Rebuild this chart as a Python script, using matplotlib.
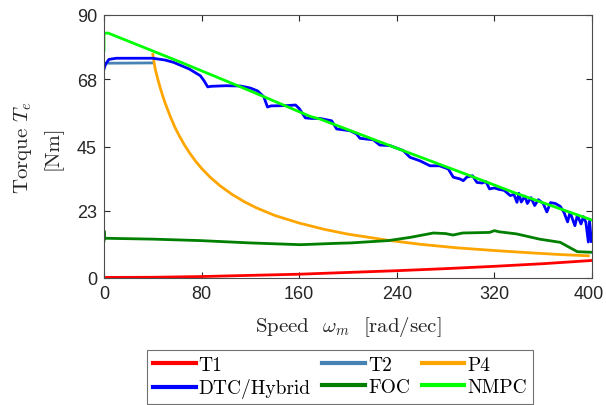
import matplotlib
matplotlib.use("Agg")
import matplotlib.pyplot as plt
import matplotlib.transforms as mtransforms

# data
t1_w = [0, 40, 80, 120, 160, 200, 240, 280, 320, 360, 400]
t1_T = [0.2, 0.25, 0.5, 0.9, 1.3, 1.9, 2.5, 3.2, 4.0, 4.9, 6.0]

t2_w = [0, 2, 40]
t2_T = [72.0, 73.5, 73.6]

p4_w = [40, 42, 44, 46, 48, 50, 54, 58, 62, 66, 70, 75, 80, 87, 95, 105, 115, 125,
        140, 160, 180, 200, 233, 260, 290, 320, 350, 375, 397]
p4_T = [76.5, 71.5, 68.2, 65.2, 62.5, 60.0, 55.6, 51.7, 48.4, 45.5, 42.9, 40.0, 37.5,
        34.5, 31.6, 28.6, 26.1, 24.0, 21.4, 18.8, 16.7, 15.0, 12.9, 11.5, 10.3, 9.4,
        8.6, 8.0, 7.6]

dtc_w = [0, 1, 4, 10, 40, 50, 57, 70, 79, 82, 85, 88, 100, 112, 120, 126, 131, 134,
         137, 150, 157, 160, 165, 170, 177, 186.6, 190.7, 201.6, 207, 209.8, 220.7,
         226, 234.4, 245.3, 250.8, 259, 267.2, 275, 282.2, 286.3, 291.8, 294.5, 297.3,
         302, 305.7, 310, 313, 316, 320, 324, 328, 333, 336, 338.5, 340, 342, 345, 347,
         350, 353, 356, 360, 363, 366, 370, 374, 377, 380, 382, 386, 388, 391, 393, 395,
         397, 398, 399.5]
dtc_T = [71.5, 73.0, 74.8, 75.2, 75.2, 74.6, 73.8, 71.5, 69.2, 67.5, 65.4, 65.6, 65.8,
         65.7, 65.0, 64.0, 62.0, 58.5, 58.9, 59.0, 59.2, 58.0, 54.8, 54.6, 54.6, 53.8,
         51.0, 50.4, 49.3, 47.8, 47.3, 45.5, 45.3, 43.6, 41.3, 40.1, 38.4, 38.4, 37.3,
         34.5, 33.9, 33.3, 34.5, 35.0, 32.7, 32.5, 33.0, 30.5, 30.8, 30.3, 30.0, 28.2,
         28.6, 25.9, 29.0, 26.0, 28.0, 25.5, 27.5, 24.8, 26.8, 25.5, 22.6, 25.8, 25.5,
         24.5, 22.5, 19.2, 22.5, 17.9, 21.5, 18.5, 21.0, 19.0, 12.3, 19.5, 12.5]

foc_w = [0, 0, 0.5, 40, 79, 120, 161, 193, 202, 233, 251, 270, 280, 286, 294, 316, 320,
         324, 338, 357, 374, 384, 388, 400]
foc_T = [12.8, 16.2, 13.6, 13.3, 12.8, 12.0, 11.4, 11.9, 12.0, 12.8, 13.9, 15.4, 15.2,
         14.7, 15.4, 15.6, 16.2, 15.8, 15.1, 13.3, 12.2, 9.9, 9.0, 8.8]

nmpc_w = [0, 0, 3.5, 62, 120, 169, 177, 240, 300, 337, 350, 397.5, 400]
nmpc_T = [78.0, 83.8, 83.8, 74.0, 64.0, 55.3, 54.4, 44.4, 35.0, 29.1, 27.2, 20.2, 19.8]

xticks = [0, 80, 160, 240, 320, 400]
yticks = [0, 23, 45, 68, 90]

plt.rcParams['font.family'] = 'Liberation Sans'
plt.rcParams['mathtext.fontset'] = 'cm'
plt.rcParams['axes.unicode_minus'] = False
serif = 'cmr10'

fig = plt.figure(figsize=(6.06, 4.06), dpi=100)
ax = fig.add_axes([104 / 606, 1 - 279 / 406, 488 / 606, 263 / 406])

lw = 2.0
l1, = ax.plot(t1_w, t1_T, color='#ff0000', lw=lw, label='T1')
l2, = ax.plot(t2_w, t2_T, color='#4682b4', lw=lw, label='T2')
l3, = ax.plot(p4_w, p4_T, color='#ffa500', lw=lw, label='P4')
l4, = ax.plot(dtc_w, dtc_T, color='#0000ff', lw=lw, label='DTC/Hybrid')
l5, = ax.plot(foc_w, foc_T, color='#007f00', lw=lw, label='FOC')
l6, = ax.plot(nmpc_w, nmpc_T, color='#00ff00', lw=lw, label='NMPC')

ax.set_xlim(0, 400)
ax.set_ylim(0, 90)
ax.set_xticks(xticks)
ax.set_yticks(yticks)
ax.tick_params(direction='in', top=True, right=True, labelsize=13,
               colors='#262626', length=4, width=0.8, pad=5)
for s in ax.spines.values():
    s.set_color('#4d4d4d')
    s.set_linewidth(0.8)

# nudge the last x label so it stays inside the figure
last = ax.get_xticklabels()[-1]
last.set_transform(last.get_transform() +
                   mtransforms.ScaledTranslation(-3 / 100, 0, fig.dpi_scale_trans))

ax.set_xlabel(r'Speed  $\omega_m$  [rad/sec]', family=serif, fontsize=15,
              color='#262626', labelpad=9)
ax.set_ylabel('Torque $T_e$\n[Nm]', family=serif, fontsize=15,
              color='#262626', labelpad=10, linespacing=1.6)

# legend fills column by column, so order handles to read row-wise
handles = [l1, l4, l2, l5, l3, l6]
leg = fig.legend(handles, [h.get_label() for h in handles],
                 loc='center', bbox_to_anchor=(0.561, 0.069), ncol=3,
                 prop={'family': serif, 'size': 14}, frameon=True, fancybox=False,
                 handlelength=2.2, handletextpad=0.15, columnspacing=0.6,
                 borderpad=0.3, labelspacing=0.25, borderaxespad=0)
leg.get_frame().set_edgecolor('#4d4d4d')
leg.get_frame().set_linewidth(0.8)
for h in leg.get_lines():
    h.set_linewidth(3)

fig.savefig('out.png', dpi=100)
